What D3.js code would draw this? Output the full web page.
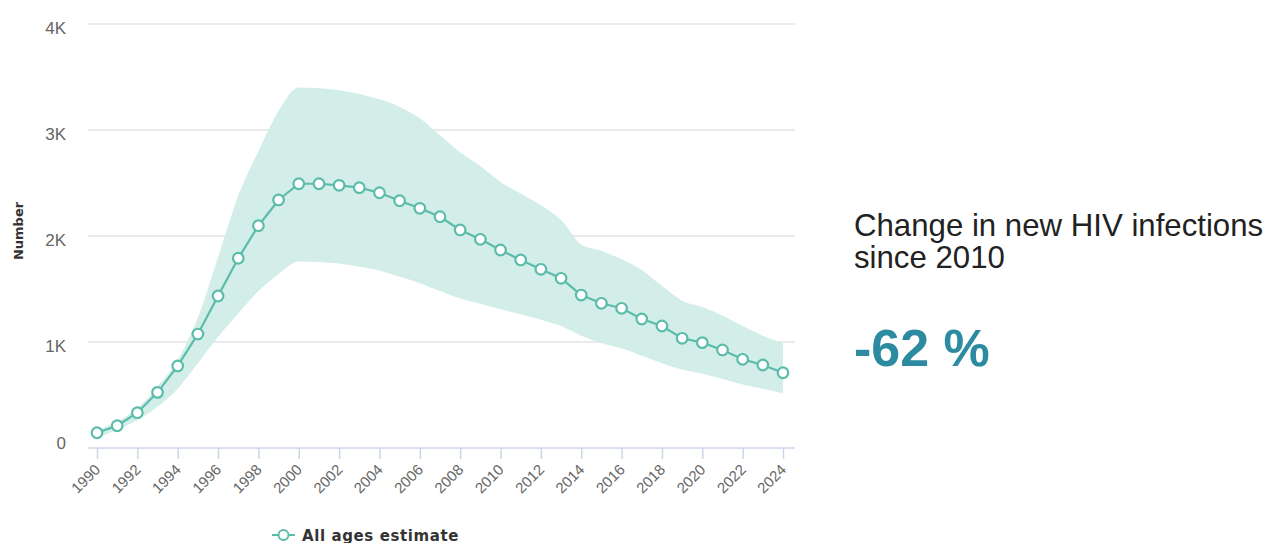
<!DOCTYPE html>
<html>
<head>
<meta charset="utf-8">
<script src="https://cdn.jsdelivr.net/npm/d3@7"></script>
<style>
  html, body { margin: 0; padding: 0; background: #fff; }
  svg { display: block; }
</style>
</head>
<body>
<svg id="chart" width="1271" height="543"></svg>
<script>
// New HIV infections, all ages: estimate with lower/upper uncertainty bounds
const years = d3.range(1990, 2025);
const estimate = [144, 210, 333, 525, 774, 1075, 1434, 1790, 2097, 2340,
  2493, 2493, 2478, 2456, 2408, 2333, 2261, 2182, 2057, 1969,
  1868, 1774, 1686, 1601, 1443, 1365, 1318, 1217, 1151, 1035,
  994, 925, 837, 783, 710];
const upper = [170, 250, 375, 580, 830, 1230, 1800, 2380, 2800, 3180,
  3400, 3395, 3375, 3340, 3290, 3220, 3110, 2950, 2790, 2660,
  2510, 2400, 2290, 2150, 1920, 1860, 1780, 1680, 1530, 1390,
  1330, 1250, 1150, 1060, 990];
const lower = [100, 170, 264, 390, 560, 800, 1050, 1270, 1480, 1640,
  1760, 1755, 1740, 1710, 1675, 1615, 1555, 1480, 1410, 1360,
  1310, 1260, 1210, 1150, 1060, 990, 940, 870, 800, 740,
  700, 650, 600, 560, 516];
const yTicks = [0, 1000, 2000, 3000, 4000];
const yTickLabels = ["0", "1K", "2K", "3K", "4K"];
const xTicks = d3.range(1990, 2025, 2);
const seriesName = "All ages estimate";
const headline = ["Change in new HIV infections", "since 2010"];
const changeLabel = "-62 %";

const data = years.map((yr, i) => ({ year: yr, est: estimate[i], lo: lower[i], hi: upper[i] }));

const svg = d3.select("#chart");
const plot = { left: 88, right: 795, top: 24, bottom: 448 };

const x = d3.scaleLinear().domain([1990, 2024]).range([97, 783]);
const y = d3.scaleLinear().domain([0, 4000]).range([plot.bottom, plot.top]);

const teal = "#5bbcaa";
const tickFont = "'Liberation Sans', Arial, sans-serif";

// horizontal grid lines
svg.append("g")
  .selectAll("line")
  .data(yTicks.filter(d => d > 0))
  .join("line")
  .attr("x1", plot.left).attr("x2", plot.right)
  .attr("y1", d => y(d)).attr("y2", d => y(d))
  .attr("stroke", "#e3e3e3").attr("stroke-width", 1.5);

// y axis labels
const yAxis = d3.axisLeft(y).tickValues(yTicks)
  .tickFormat((d, i) => yTickLabels[i]).tickSize(0).tickPadding(0);
const gy = svg.append("g").attr("transform", "translate(66,0)").call(yAxis);
gy.select(".domain").remove();
gy.selectAll("text")
  .attr("fill", "#666").attr("font-size", 17).attr("font-family", tickFont)
  .attr("dy", (d) => d === 0 ? "0.0em" : "0.55em");

// y axis title
svg.append("text")
  .attr("transform", "translate(23,231) rotate(-90)")
  .attr("text-anchor", "middle")
  .attr("font-family", "'DejaVu Sans', sans-serif")
  .attr("font-weight", "bold").attr("font-size", 13)
  .attr("fill", "#333")
  .text("Number");

// uncertainty band
const band = d3.area()
  .x(d => x(d.year)).y0(d => y(d.lo)).y1(d => y(d.hi))
  .curve(d3.curveMonotoneX);
svg.append("path").datum(data)
  .attr("d", band)
  .attr("fill", "#d3eee9");

// x axis
const xAxis = d3.axisBottom(x).tickValues(xTicks).tickFormat(d3.format("d"))
  .tickSizeOuter(0).tickSizeInner(11).tickPadding(0);
const gx = svg.append("g").attr("transform", `translate(0,${plot.bottom})`).call(xAxis);
gx.select(".domain")
  .attr("d", `M${plot.left},0H${plot.right}`)
  .attr("stroke", "#ccd6eb").attr("stroke-width", 1.5);
gx.selectAll(".tick line").attr("stroke", "#ccd6eb").attr("stroke-width", 1.5);
gx.selectAll(".tick text")
  .attr("fill", "#666").attr("font-size", 15).attr("font-family", tickFont)
  .attr("text-anchor", "end")
  .attr("y", 0)
  .attr("dy", "0.35em")
  .attr("transform", "translate(0,19) rotate(-45)");

// estimate line with hollow markers
const line = d3.line().x(d => x(d.year)).y(d => y(d.est));
svg.append("path").datum(data)
  .attr("d", line)
  .attr("fill", "none").attr("stroke", teal).attr("stroke-width", 2.2);
svg.append("g").selectAll("circle").data(data).join("circle")
  .attr("cx", d => x(d.year)).attr("cy", d => y(d.est))
  .attr("r", 5.3)
  .attr("fill", "#fff").attr("stroke", teal).attr("stroke-width", 2.2);

// legend
const lg = svg.append("g").attr("transform", "translate(272,535)");
lg.append("line").attr("x1", 0).attr("x2", 23).attr("y1", 0).attr("y2", 0)
  .attr("stroke", teal).attr("stroke-width", 2);
lg.append("circle").attr("cx", 11.5).attr("cy", 0).attr("r", 5)
  .attr("fill", "#fff").attr("stroke", teal).attr("stroke-width", 2);
lg.append("text").attr("x", 30).attr("y", 5.5)
  .attr("font-family", "'DejaVu Sans', sans-serif")
  .attr("font-weight", "bold").attr("font-size", 15)
  .attr("letter-spacing", 0.6)
  .attr("fill", "#333")
  .text(seriesName);

// headline figure on the right
const side = svg.append("g").attr("transform", "translate(854,0)");
side.selectAll("text.head").data(headline).join("text")
  .attr("class", "head")
  .attr("x", 0).attr("y", (d, i) => 236 + i * 32)
  .attr("font-family", "'Liberation Sans', Arial, sans-serif")
  .attr("font-size", 31.2).attr("fill", "#222")
  .text(d => d);
side.append("text")
  .attr("x", 0).attr("y", 366)
  .attr("font-family", "'Liberation Sans', Arial, sans-serif")
  .attr("font-weight", "bold").attr("font-size", 52)
  .attr("fill", "#2d8ba1")
  .text(changeLabel);
</script>
</body>
</html>
